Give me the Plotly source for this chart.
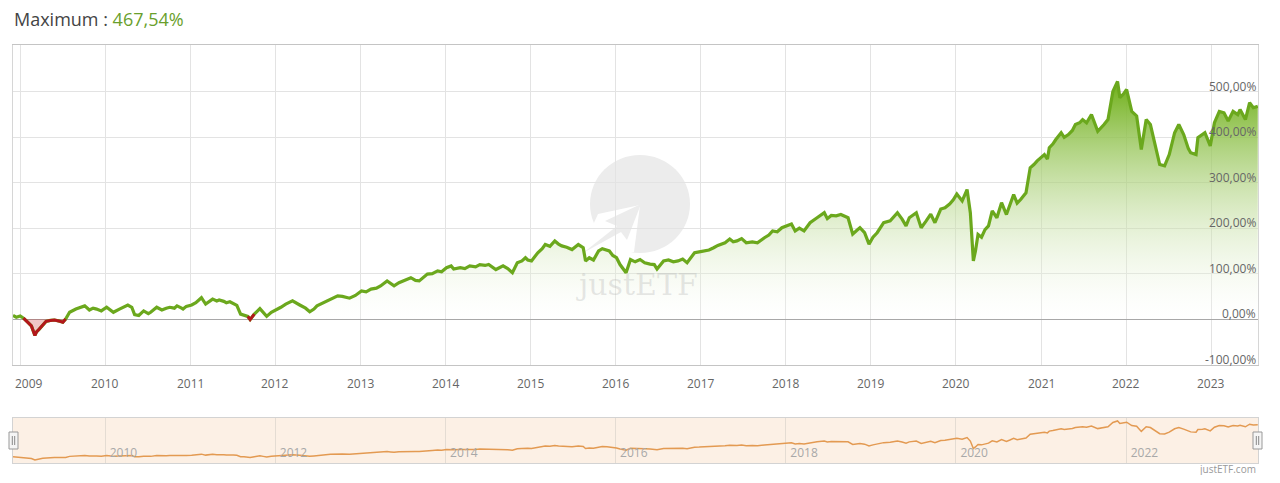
import plotly.graph_objects as go

# ---------------- data ----------------
dates = [
    "2008-12-01", "2008-12-15", "2009-01-01", "2009-01-15", "2009-02-03", "2009-02-18", "2009-03-05", "2009-03-12",
    "2009-03-24", "2009-04-08", "2009-04-22", "2009-05-10", "2009-05-28", "2009-06-15", "2009-07-03", "2009-07-15",
    "2009-08-01", "2009-08-28", "2009-09-15", "2009-10-05", "2009-10-25", "2009-11-10", "2009-11-25", "2009-12-15",
    "2010-01-07", "2010-01-25", "2010-02-05", "2010-03-03", "2010-04-08", "2010-04-25", "2010-05-07", "2010-05-25",
    "2010-06-15", "2010-07-05", "2010-07-15", "2010-08-10", "2010-09-01", "2010-09-20", "2010-10-05", "2010-10-25",
    "2010-11-05", "2010-11-25", "2010-12-01", "2010-12-15", "2011-01-07", "2011-01-25", "2011-02-18", "2011-03-08",
    "2011-03-20", "2011-04-07", "2011-04-25", "2011-05-05", "2011-05-25", "2011-06-05", "2011-06-20", "2011-07-05",
    "2011-07-20", "2011-08-05", "2011-08-20", "2011-09-05", "2011-09-15", "2011-10-03", "2011-10-27", "2011-11-10",
    "2011-11-25", "2011-12-15", "2012-01-05", "2012-01-25", "2012-02-15", "2012-03-15", "2012-04-15", "2012-05-10",
    "2012-05-28", "2012-06-15", "2012-06-28", "2012-07-25", "2012-08-25", "2012-09-25", "2012-10-15", "2012-11-15",
    "2012-12-10", "2013-01-05", "2013-01-25", "2013-02-15", "2013-03-10", "2013-03-28", "2013-04-25", "2013-05-10",
    "2013-05-25", "2013-06-15", "2013-07-10", "2013-08-05", "2013-08-25", "2013-09-10", "2013-10-15", "2013-11-05",
    "2013-11-28", "2013-12-15", "2014-01-05", "2014-01-25", "2014-02-05", "2014-03-05", "2014-03-25", "2014-04-15",
    "2014-05-10", "2014-05-28", "2014-06-20", "2014-07-05", "2014-08-05", "2014-08-25", "2014-09-05", "2014-09-25",
    "2014-10-15", "2014-11-05", "2014-11-25", "2014-12-10", "2014-12-20", "2015-01-05", "2015-02-01", "2015-02-20",
    "2015-03-05", "2015-03-25", "2015-04-15", "2015-05-01", "2015-05-15", "2015-06-05", "2015-06-28", "2015-07-25",
    "2015-08-15", "2015-08-25", "2015-09-10", "2015-09-28", "2015-10-20", "2015-11-05", "2015-11-25", "2015-12-05",
    "2015-12-20", "2016-01-05", "2016-01-20", "2016-02-15", "2016-03-05", "2016-03-25", "2016-04-15", "2016-05-05",
    "2016-05-28", "2016-06-15", "2016-06-27", "2016-07-25", "2016-08-15", "2016-09-05", "2016-09-25", "2016-10-15",
    "2016-11-03", "2016-11-20", "2016-12-05", "2016-12-25", "2017-01-15", "2017-02-05", "2017-02-25", "2017-03-15",
    "2017-04-15", "2017-05-05", "2017-05-20", "2017-06-05", "2017-06-25", "2017-07-15", "2017-08-10", "2017-09-01",
    "2017-10-01", "2017-10-20", "2017-11-05", "2017-11-25", "2017-12-15", "2018-01-05", "2018-01-25", "2018-02-10",
    "2018-02-28", "2018-03-20", "2018-04-15", "2018-05-15", "2018-06-15", "2018-06-28", "2018-07-15", "2018-08-05",
    "2018-08-25", "2018-09-25", "2018-10-15", "2018-11-01", "2018-11-15", "2018-12-05", "2018-12-24", "2019-01-10",
    "2019-01-28", "2019-02-25", "2019-03-25", "2019-04-25", "2019-05-15", "2019-06-01", "2019-06-15", "2019-07-15",
    "2019-08-05", "2019-08-25", "2019-09-15", "2019-10-03", "2019-10-28", "2019-11-15", "2019-12-05", "2019-12-20",
    "2020-01-05", "2020-01-28", "2020-02-18", "2020-03-03", "2020-03-16", "2020-03-25", "2020-04-05", "2020-04-20",
    "2020-05-05", "2020-05-20", "2020-06-05", "2020-06-25", "2020-07-15", "2020-08-05", "2020-08-20", "2020-09-05",
    "2020-09-20", "2020-10-05", "2020-10-28", "2020-11-15", "2020-12-01", "2020-12-15", "2021-01-15", "2021-01-28",
    "2021-02-05", "2021-02-20", "2021-03-05", "2021-03-28", "2021-04-10", "2021-04-28", "2021-05-15", "2021-05-28",
    "2021-06-15", "2021-06-28", "2021-07-15", "2021-08-05", "2021-09-01", "2021-09-15", "2021-09-28", "2021-10-15",
    "2021-11-05", "2021-11-25", "2021-12-05", "2021-12-20", "2022-01-03", "2022-01-25", "2022-02-15", "2022-03-07",
    "2022-03-28", "2022-04-15", "2022-05-05", "2022-05-25", "2022-06-15", "2022-07-05", "2022-07-28", "2022-08-15",
    "2022-09-05", "2022-09-25", "2022-10-05", "2022-10-28", "2022-11-05", "2022-11-25", "2022-12-05", "2022-12-28",
    "2023-01-15", "2023-02-05", "2023-02-25", "2023-03-15", "2023-04-05", "2023-04-25", "2023-05-05", "2023-05-28",
    "2023-06-15", "2023-07-01", "2023-07-20",
]

values = [
    8, 4, 7, 2, -7, -15, -36, -28,
    -22, -12, -5, -3, -2, -4, -7, 0,
    15, 22, 25, 29, 20, 24, 22, 18,
    26, 20, 15, 22, 31, 26, 10, 8,
    18, 12, 15, 26, 20, 24, 26, 24,
    29, 24, 22, 28, 31, 36, 47, 33,
    38, 44, 40, 42, 39, 36, 38, 33,
    30, 11, 8, 6, -1, 11, 23, 15,
    6, 15, 20, 26, 33, 40, 31, 24,
    16, 22, 29, 36, 44, 51, 50, 46,
    52, 62, 60, 66, 68, 73, 84, 78,
    73, 80, 85, 91, 85, 84, 99, 100,
    106, 104, 113, 117, 110, 113, 111, 117,
    115, 120, 118, 120, 109, 114, 117, 111,
    102, 124, 128, 135, 130, 128, 146, 155,
    164, 160, 172, 165, 161, 158, 153, 164,
    157, 128, 135, 130, 150, 155, 152, 150,
    140, 135, 120, 102, 131, 126, 131, 124,
    121, 120, 110, 128, 130, 126, 128, 132,
    124, 135, 146, 148, 150, 152, 157, 162,
    168, 176, 170, 172, 177, 168, 170, 168,
    179, 185, 194, 192, 201, 205, 209, 194,
    200, 194, 212, 223, 234, 221, 228, 227,
    230, 223, 187, 195, 201, 190, 165, 180,
    190, 212, 216, 234, 220, 205, 223, 234,
    201, 215, 231, 212, 242, 245, 253, 262,
    275, 260, 285, 234, 128, 150, 186, 180,
    197, 205, 238, 223, 256, 230, 250, 274,
    255, 263, 278, 333, 340, 348, 362, 352,
    377, 385, 395, 410, 400, 406, 415, 428,
    432, 439, 432, 450, 413, 420, 428, 439,
    501, 523, 487, 495, 505, 457, 447, 373,
    439, 428, 384, 340, 337, 362, 410, 428,
    406, 375, 366, 362, 399, 405, 410, 381,
    432, 457, 454, 436, 457, 450, 461, 439,
    476, 465, 468,
]

title_label = "Maximum : "
title_value = "467,54%"
y_tick_values = [-100, 0, 100, 200, 300, 400, 500]
y_tick_text = ["-100,00%", "0,00%", "100,00%", "200,00%", "300,00%", "400,00%", "500,00%"]
x_tick_years = [2009, 2010, 2011, 2012, 2013, 2014, 2015, 2016, 2017, 2018, 2019, 2020, 2021, 2022, 2023]
credit_text = "justETF.com"
watermark_text = "justETF"

# ---------------- derived series ----------------
pos_vals = [max(v, 0) for v in values]
neg_vals = [min(v, 0) for v in values]
red_line = []
for i, v in enumerate(values):
    prev_neg = i > 0 and values[i - 1] < 0
    next_neg = i < len(values) - 1 and values[i + 1] < 0
    red_line.append(v if (v < 0 or prev_neg or next_neg) else None)

# ---------------- layout helpers ----------------
# The page body has an 8px margin, so the figure is sized/positioned to compensate.
OFF = 8
W, H = 1280 - 2 * OFF, 483 - 2 * OFF
PL, PT, PR, PB = 13, 45, 1258, 463          # plot block edges in page pixels
ML, MT = PL - OFF, PT - OFF
MR, MB = W - (PR - OFF), H - (PB - OFF)
PW, PH = PR - PL, PB - PT


def px(x):
    return (x - PL) / PW


def py(y):
    return (PB - y) / PH


FONT = "Open Sans, Noto Sans, sans-serif"
x_range = ["2008-12-01", "2023-07-21"]

fig = go.Figure()

fig.add_trace(go.Scatter(
    x=dates, y=pos_vals, mode="lines", line=dict(width=0), fill="tozeroy",
    fillgradient=dict(type="vertical", start=0, stop=520,
                      colorscale=[[0, "rgba(255,255,255,0.15)"], [1, "rgba(112,176,26,1)"]]),
    hoverinfo="skip", showlegend=False, xaxis="x", yaxis="y"))
fig.add_trace(go.Scatter(
    x=dates, y=neg_vals, mode="lines", line=dict(width=0), fill="tozeroy",
    fillcolor="rgba(200,50,50,0.28)", hoverinfo="skip", showlegend=False, xaxis="x", yaxis="y"))
fig.add_trace(go.Scatter(
    x=dates, y=values, mode="lines", line=dict(color="#6ba81d", width=3.2),
    hoverinfo="skip", showlegend=False, xaxis="x", yaxis="y"))
fig.add_trace(go.Scatter(
    x=dates, y=red_line, mode="lines", line=dict(color="#b3161b", width=3),
    connectgaps=False, hoverinfo="skip", showlegend=False, xaxis="x", yaxis="y"))
fig.add_trace(go.Scatter(
    x=dates, y=values, mode="lines", line=dict(color="#e39a52", width=1.5),
    hoverinfo="skip", showlegend=False, xaxis="x2", yaxis="y2"))

shapes = []
shapes.append(dict(type="rect", xref="paper", yref="paper", x0=0, x1=1, y0=0, y1=py(418),
                   fillcolor="#fcf0e5", line=dict(width=0), layer="below"))
shapes.append(dict(type="circle", xref="paper", yref="paper",
                   x0=px(590), x1=px(690), y0=py(253), y1=py(155),
                   fillcolor="#ececec", line=dict(width=0), layer="below"))
shapes.append(dict(type="path", xref="paper", yref="paper",
                   path=f"M {px(640)},{py(205)} L {px(598)},{py(214)} L {px(578)},{py(258)} L {px(634)},{py(252)} Z",
                   fillcolor="#ffffff", line=dict(width=0), layer="below"))
shapes.append(dict(type="path", xref="paper", yref="paper",
                   path=(f"M {px(641)},{py(204)} L {px(605)},{py(221)} L {px(617)},{py(226)} "
                         f"L {px(583)},{py(253)} L {px(621)},{py(232)} L {px(627)},{py(240)} Z"),
                   fillcolor="#ececec", line=dict(width=0), layer="below"))
for hx in (13.5, 1257.5):
    shapes.append(dict(type="rect", xref="paper", yref="paper",
                       x0=px(hx - 4.5), x1=px(hx + 4.5), y0=py(449), y1=py(432),
                       fillcolor="#f5f5f5", line=dict(color="#999999", width=1), layer="above"))
    for dx in (-1.2, 1.2):
        shapes.append(dict(type="line", xref="paper", yref="paper",
                           x0=px(hx + dx), x1=px(hx + dx), y0=py(445), y1=py(436),
                           line=dict(color="#888888", width=1), layer="above"))

annotations = [
    dict(text=f"{title_label}<span style='color:#6a9f2c'>{title_value}</span>",
         xref="paper", yref="paper", x=px(12), y=py(19), xanchor="left", yanchor="middle",
         showarrow=False, font=dict(family=FONT, size=18, color="#444444")),
    dict(text=credit_text, xref="paper", yref="paper", x=px(1258), y=py(469),
         xanchor="right", yanchor="middle", showarrow=False,
         font=dict(family=FONT, size=10, color="#999999")),
    dict(text=watermark_text, xref="paper", yref="paper", x=px(637), y=py(284),
         xanchor="center", yanchor="middle", showarrow=False,
         font=dict(family="DejaVu Serif, Liberation Serif, serif", size=30, color="rgba(170,170,170,0.28)")),
]
# y-axis labels (inside, right-aligned, just above each gridline)
for val, txt in zip(y_tick_values, y_tick_text):
    annotations.append(dict(text=txt, xref="paper", yref="y", x=px(1258), y=val,
                            xanchor="right", yanchor="bottom", yshift=-5, showarrow=False,
                            font=dict(family=FONT, size=12, color="#666666")))
# x-axis year labels below the main plot
for i, yr in enumerate(x_tick_years):
    first = i == 0
    annotations.append(dict(text=str(yr), xref="x", yref="paper", x=f"{yr}-01-01", y=py(383),
                            xanchor="left" if first else "center", xshift=-7 if first else 0,
                            yanchor="middle", showarrow=False,
                            font=dict(family=FONT, size=12, color="#666666")))

fig.update_layout(
    width=W, height=H,
    margin=dict(l=ML, r=MR, t=MT, b=MB, pad=0),
    paper_bgcolor="white", plot_bgcolor="rgba(0,0,0,0)",
    font=dict(family=FONT, color="#666666"),
    shapes=shapes, annotations=annotations,
    hovermode=False,
    xaxis=dict(
        domain=[0, 1], anchor="y", type="date", range=x_range, automargin=False,
        tick0="2009-01-01", dtick="M12", showticklabels=False,
        showgrid=True, gridcolor="#e3e3e3", gridwidth=1,
        showline=True, linecolor="#c4c4c4", linewidth=1, mirror=True,
        ticks="", zeroline=False, fixedrange=True,
    ),
    yaxis=dict(
        domain=[py(365), 1], anchor="x", range=[-101, 603], side="right", automargin=False,
        tickvals=y_tick_values, showticklabels=False,
        showgrid=True, gridcolor="#e3e3e3", gridwidth=1,
        zeroline=True, zerolinecolor="#a8a8a8", zerolinewidth=1,
        showline=True, linecolor="#d6d6d6", linewidth=1, mirror=True,
        ticks="", fixedrange=True,
    ),
    xaxis2=dict(
        domain=[0, 1], anchor="y2", type="date", range=x_range, automargin=False,
        tick0="2010-01-01", dtick="M24", tickformat="%Y",
        ticklabelposition="inside right", ticklabelshift=4,
        tickfont=dict(family=FONT, size=12, color="#a8a8a8"),
        showgrid=True, gridcolor="#e4dcd3", gridwidth=1,
        showline=True, linecolor="#d3d3d3", linewidth=1, mirror=True,
        ticks="", zeroline=False, fixedrange=True,
    ),
    yaxis2=dict(
        domain=[0, py(418)], anchor="x2", range=[-80, 565], automargin=False,
        showticklabels=False, showgrid=False, zeroline=False,
        showline=True, linecolor="#d3d3d3", linewidth=1, mirror=True,
        ticks="", fixedrange=True,
    ),
)

fig.write_html("out.html", config={"displayModeBar": False})
